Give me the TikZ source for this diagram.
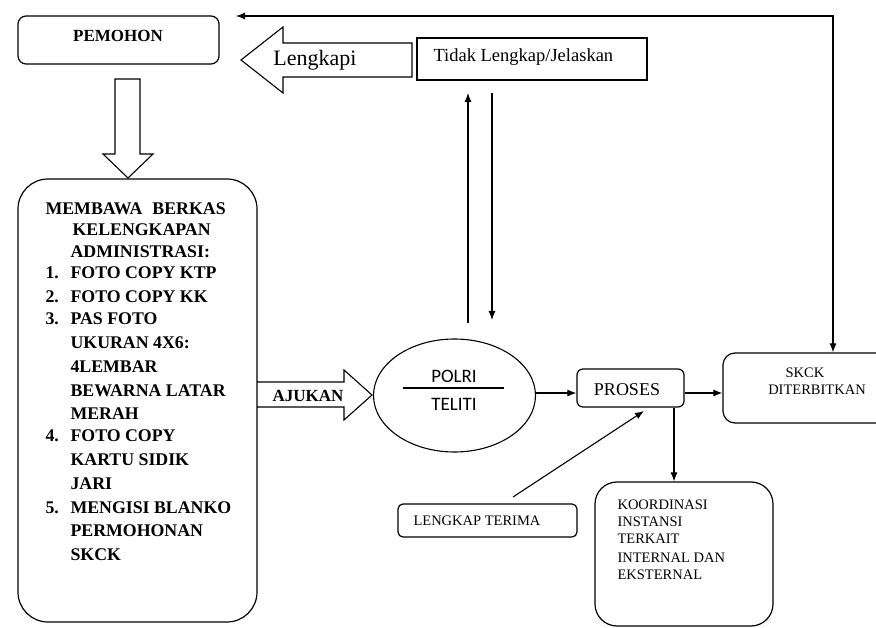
\documentclass[tikz,border=0pt]{standalone}
\usepackage{fontspec}
\setmainfont{Liberation Serif}
\newfontfamily\calib{Carlito}
\usetikzlibrary{arrows.meta,shapes.geometric}
\tikzset{
  arr/.style={-{Latex[length=9pt,width=7pt]}},
  bx/.style={draw, inner sep=0pt, line width=1.2pt},
  bf/.style={font=\bfseries\fontsize{17}{20}\selectfont, inner sep=0pt},
  bfl/.style={font=\bfseries\fontsize{17.8}{20}\selectfont, inner sep=0pt},
  sm/.style={font=\fontsize{14.5}{17}\selectfont, inner sep=0pt},
}
\begin{document}
\begin{tikzpicture}[x=1pt,y=-1pt,line width=1.1pt]
\useasboundingbox (0,0) rectangle (876,628);

% PEMOHON
\node[bx, rounded corners=8pt, minimum width=201pt, minimum height=48pt] (pemohon) at (118.5,40) {};
\node[bf] (pemohontxt) at (118,36) {PEMOHON};

% down block arrow
\draw[line width=1.1pt] (115,79) -- (140,79) -- (140,154) -- (153,154) -- (128,178) -- (103,154) -- (115,154) -- cycle;

% big box
\node[bx, rounded corners=30pt, minimum width=239pt, minimum height=443pt] (berkas) at (137.5,400.5) {};
\node[bfl, anchor=base west] (h1) at (45,215) {MEMBAWA\hspace{10pt}BERKAS};
\node[bfl, anchor=base west] (h2) at (72,236) {KELENGKAPAN};
\node[bfl, anchor=base west] (h3) at (70,258) {ADMINISTRASI:};
\foreach \n/\y in {1/279,2/303,3/325,4/441,5/513}
  \node[bfl, anchor=base west] (num\n) at (45,\y) {\n.};
\foreach \t/\y [count=\i] in {FOTO COPY KTP/279, FOTO COPY KK/303, PAS FOTO/325,
  UKURAN 4X6:/349, 4LEMBAR/373, BEWARNA LATAR/397, MERAH/419, FOTO COPY/441,
  KARTU SIDIK/465, JARI/489, MENGISI BLANKO/513, PERMOHONAN/536, SKCK/560}
  \node[bfl, anchor=base west] (item\i) at (70,\y) {\t};

% Lengkapi block arrow
\draw[line width=1.1pt] (241,60) -- (283,27) -- (283,43) -- (412,43) -- (412,77) -- (283,77) -- (283,93) -- cycle;
\node[font=\fontsize{22}{24}\selectfont, inner sep=0pt] (lengkapi) at (315,60) {Lengkapi};

% Tidak Lengkap box
\node[bx, minimum width=230pt, minimum height=42pt] (tidak) at (532,59) {};
\node[font=\fontsize{18.5}{21}\selectfont, inner sep=0pt, anchor=west] (tidaktxt) at (433,57) {Tidak Lengkap/Jelaskan};

% AJUKAN block arrow
\draw[line width=1.1pt] (257,382) -- (344,382) -- (344,370) -- (372,395) -- (344,420) -- (344,407) -- (257,407);
\node[bf] (ajukan) at (308,396) {AJUKAN};

% POLRI ellipse
\node[draw, ellipse, line width=1.1pt, minimum width=162pt, minimum height=113pt, inner sep=0pt] (polri) at (454.5,395.5) {};
\draw[line width=1.1pt] (403,388) -- (504,388);
\node[font=\calib\fontsize{19}{22}\selectfont, inner sep=0pt] (polritxt) at (454,376) {POLRI};
\node[font=\calib\fontsize{19}{22}\selectfont, inner sep=0pt] (teliti) at (454,404) {TELITI};

% vertical arrows between ellipse and Tidak box
\coordinate (upS) at (468,323);
\coordinate (upE) at (468,93);
\coordinate (dnS) at (492,93);
\coordinate (dnE) at (492,320);
\draw[arr] (upS) -- (upE);
\draw[arr] (dnS) -- (dnE);

% PROSES
\node[bx, rounded corners=6pt, minimum width=107pt, minimum height=38pt] (proses) at (630.5,388) {};
\node[font=\fontsize{18}{20}\selectfont, inner sep=0pt] (prosestxt) at (627,390) {PROSES};

% SKCK
\node[bx, rounded corners=12pt, minimum width=177pt, minimum height=70pt] (skck) at (811.5,388) {};
\node[sm] (skck1) at (805,373) {SKCK};
\node[sm] (skck2) at (817,390) {DITERBITKAN};

\coordinate (mid) at (0,393);
\draw[arr] (polri.east |- mid) -- (proses.west |- mid);
\draw[arr] (proses.east |- mid) -- (skck.west |- mid);

% top feedback connector
\coordinate (topL) at (236,16);
\coordinate (topR) at (833,16);
\draw[{Latex[length=9pt,width=7pt]}-{Latex[length=9pt,width=7pt]}] (topL) -- (topR) -- (skck.north -| topR);

% KOORDINASI
\node[bx, rounded corners=22pt, minimum width=178pt, minimum height=144pt] (koord) at (684,554) {};
\foreach \t/\y [count=\i] in {KOORDINASI/509, INSTANSI/526, TERKAIT/543, INTERNAL DAN/562, EKSTERNAL/579}
  \node[sm, anchor=base west] (k\i) at (617,\y) {\t};
\coordinate (kx) at (674,0);
\draw[arr] (proses.south -| kx) -- (koord.north -| kx);

% LENGKAP TERIMA
\node[bx, rounded corners=5pt, minimum width=179pt, minimum height=33pt] (terima) at (487.5,520.5) {};
\node[sm, anchor=west] (terimatxt) at (413,521) {LENGKAP TERIMA};
\coordinate (ltS) at (513,497);
\coordinate (ltE) at (644,411);
\draw[arr] (ltS) -- (ltE);
\end{tikzpicture}
\end{document}
